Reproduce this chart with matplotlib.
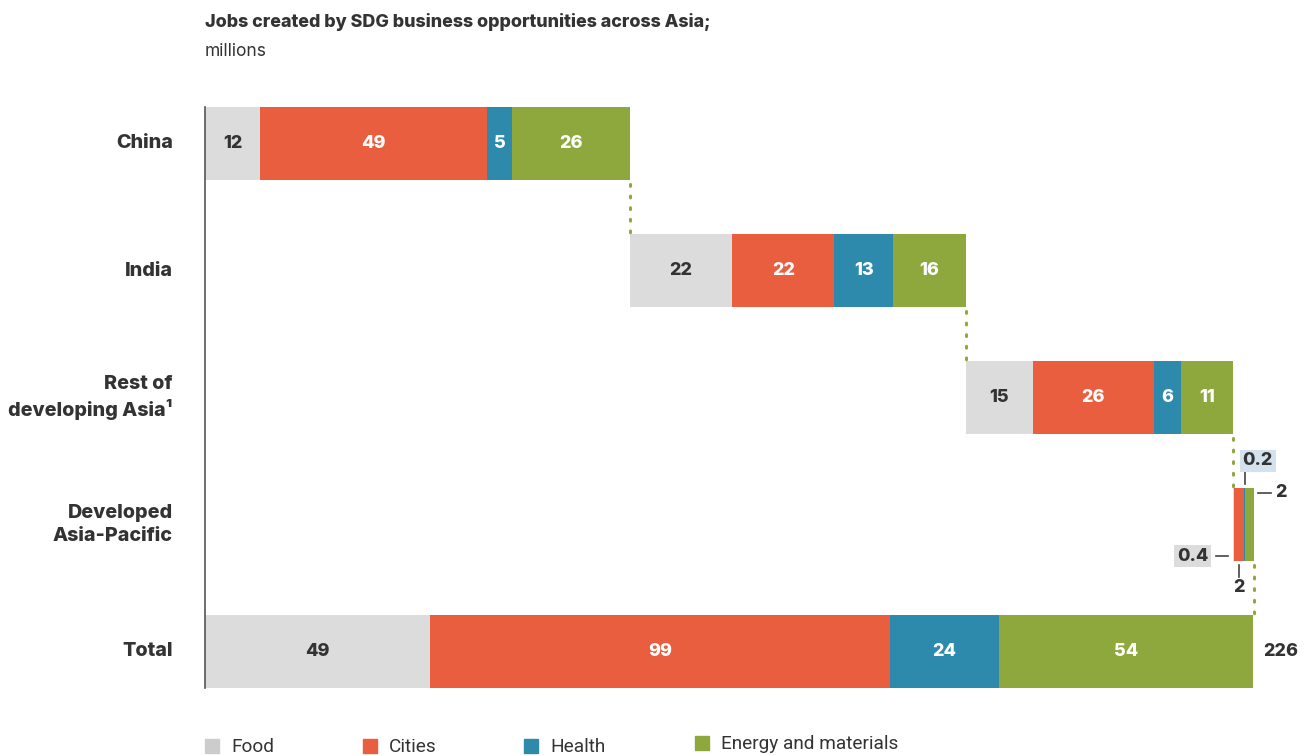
import matplotlib.pyplot as plt
import numpy as np

# Data (millions of jobs)
regions = ["China", "India", "Rest of\ndeveloping Asia¹",
           "Developed\nAsia-Pacific", "Total"]
sectors = ["Food", "Cities", "Health", "Energy and materials"]
food = [11.9, 22.0, 14.4, 0.4, 48.5]
cities = [49.0, 22.0, 26.1, 2.1, 99.2]
health = [5.4, 12.7, 5.8, 0.2, 23.5]
energy = [25.4, 15.7, 11.2, 2.0, 54.8]
labels_food = ["12", "22", "15", "0.4", "49"]
labels_cities = ["49", "22", "26", "2", "99"]
labels_health = ["5", "13", "6", "0.2", "24"]
labels_energy = ["26", "16", "11", "2", "54"]
total_label = "226"

colors = ["#dcdcdc", "#e85e3f", "#2e8aad", "#8fa83e"]
text_colors = ["#333333", "white", "white", "white"]

plt.rcParams["font.family"] = ["Inter", "DejaVu Sans"]

W, H = 1311, 755
fig = plt.figure(figsize=(W / 100, H / 100), dpi=100)
# axes: x 0..226 -> px 205..1253 ; y centres at 143..651 px
ax = fig.add_axes([205 / W, 40 / H, 1048 / W, 635 / H])
ax.set_xlim(0, 226)
ax.set_ylim(4.5, -0.5)
ax.axis("off")

px_x = 226 / 1048  # data units per pixel (x)
px_y = 1 / 127     # data units per pixel (y)
bh = 0.575
dark = "#333333"
bold = 800

vals = np.array([food, cities, health, energy])
labs = [labels_food, labels_cities, labels_health, labels_energy]
n = len(regions)

# waterfall offsets
starts = np.zeros(n)
run = 0.0
for i in range(n - 1):
    starts[i] = run
    run += vals[:, i].sum()
starts[-1] = 0.0

ypos = np.arange(n)
for i in range(n):
    left = starts[i]
    for k in range(4):
        ax.barh(ypos[i], vals[k, i], left=left, height=bh, color=colors[k],
                edgecolor="none", clip_on=False)
        if i != 3:
            ax.text(left + vals[k, i] / 2, ypos[i], labs[k][i], ha="center",
                    va="center", fontsize=13, fontweight=bold,
                    color=text_colors[k])
        left += vals[k, i]

# total label
ax.text(vals[:, -1].sum() + 10 * px_x, ypos[-1], total_label, ha="left",
        va="center", fontsize=13, fontweight=bold, color=dark)

# dotted connectors
for i in range(n - 1):
    xend = starts[i] + vals[:, i].sum()
    ax.plot([xend, xend], [ypos[i] + bh / 2 + 4 * px_y, ypos[i + 1] - bh / 2],
            linestyle=(0, (0.6, 3.2)), color="#8fa83e", linewidth=2.2,
            dash_capstyle="round", clip_on=False)

# axis line
ax.plot([0, 0], [-bh / 2, n - 1 + bh / 2], color="#555555", linewidth=1.2,
        clip_on=False)

# category labels
for i, r in enumerate(regions):
    ax.text(-32 * px_x, ypos[i], r, ha="right", va="center", fontsize=14.2,
            fontweight=bold, color=dark, linespacing=1.3)

# callouts for Developed Asia-Pacific
d = 3
x0 = starts[d]
top = ypos[d] - bh / 2
bot = ypos[d] + bh / 2
xc = x0 + vals[0, d] + vals[1, d] / 2
xh = x0 + vals[0, d] + vals[1, d] + vals[2, d] / 2
xe_end = x0 + vals[:, d].sum()
lc = "#444444"
kw = dict(color=lc, lw=1.2, clip_on=False)
# health 0.2 (above)
ax.plot([xh, xh], [top - 16 * px_y, top - 4 * px_y], **kw)
ax.text(xh + 13 * px_x, top - 27 * px_y, labels_health[d], ha="center",
        va="center", fontsize=13, fontweight=bold, color=dark,
        bbox=dict(boxstyle="square,pad=0.15", fc="#d3e2ec", ec="none"))
# energy 2 (right)
ax.plot([xe_end + 4 * px_x, xe_end + 17 * px_x], [top + 5 * px_y] * 2, **kw)
ax.text(xe_end + 21 * px_x, top + 5 * px_y, labels_energy[d], ha="left",
        va="center", fontsize=13, fontweight=bold, color=dark)
# food 0.4 (left)
ax.plot([x0 - 17 * px_x, x0 - 5 * px_x], [bot - 5 * px_y] * 2, **kw)
ax.text(x0 - 40 * px_x, bot - 5 * px_y, labels_food[d], ha="center",
        va="center", fontsize=13, fontweight=bold, color=dark,
        bbox=dict(boxstyle="square,pad=0.15", fc="#dcdcdc", ec="none"))
# cities 2 (below)
ax.plot([xc, xc], [bot + 4 * px_y, bot + 16 * px_y], **kw)
ax.text(xc, bot + 26 * px_y, labels_cities[d], ha="center", va="center",
        fontsize=13, fontweight=bold, color=dark)

# title
fig.text(205 / W, 1 - 22 / H, "Jobs created by SDG business opportunities across Asia;",
         ha="left", va="center", fontsize=12.9, fontweight=bold, color=dark)
fig.text(205 / W, 1 - 52 / H, "millions", ha="left", va="center", fontsize=12.5,
         color=dark)

# legend
leg_x = [205, 363, 524, 695]
leg_y = [747, 747, 747, 744]
for k, s in enumerate(sectors):
    fig.patches.append(plt.Rectangle((leg_x[k] / W, 1 - (leg_y[k] + 6) / H),
                                     14 / W, 14 / H, transform=fig.transFigure,
                                     color=colors[k] if k else "#cccccc"))
    fig.text((leg_x[k] + 26) / W, 1 - leg_y[k] / H, s, ha="left", va="center",
             fontsize=13.7, color=dark, family=["Roboto", "DejaVu Sans"])

fig.savefig("out.png", dpi=100)
